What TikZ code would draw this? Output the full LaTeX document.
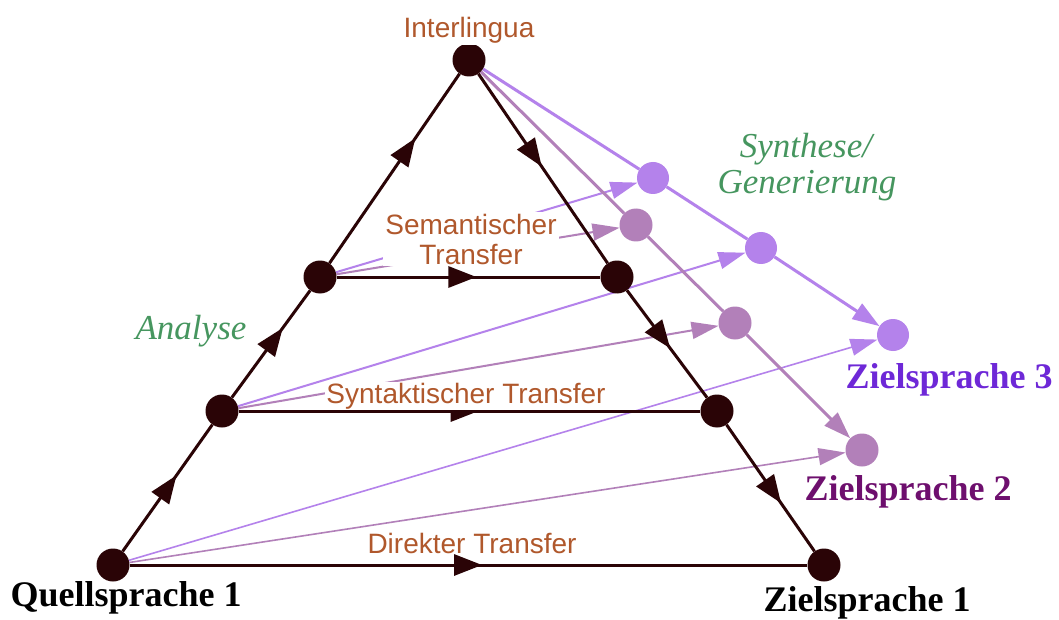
\documentclass[tikz,border=0pt]{standalone}
\usepackage{fontspec}
\setmainfont{Liberation Serif}
\setsansfont{Liberation Sans}
\usetikzlibrary{arrows.meta,decorations.markings}
\pgfdeclarelayer{paper}
\pgfdeclarelayer{background}
\pgfsetlayers{paper,background,main}
\definecolor{dotblack}{RGB}{42,4,6}
\definecolor{brownlbl}{RGB}{176,88,44}
\definecolor{greenlbl}{RGB}{70,150,95}
\definecolor{lilac}{RGB}{180,130,235}
\definecolor{mauve}{RGB}{178,128,185}
\definecolor{zthree}{RGB}{110,40,215}
\definecolor{ztwo}{RGB}{110,15,110}
\begin{document}
\begin{tikzpicture}[x=1pt,y=-1pt,
  dot/.style={circle,fill=dotblack,minimum size=33pt,inner sep=0pt},
  lil/.style={circle,fill=lilac,minimum size=32pt,inner sep=0pt},
  mau/.style={circle,fill=mauve,minimum size=33pt,inner sep=0pt},
  blackedge/.style={line width=3pt,draw=dotblack,color=dotblack,postaction={decorate},
    decoration={markings,mark=at position #1 with {\arrow{Triangle[length=28pt,width=21pt]}}}},
  blackedge/.default=0.52,
  chainlil/.style={line width=3pt,draw=lilac,color=lilac},
  chainmau/.style={line width=3pt,draw=mauve,color=mauve},
  fanlil/.style={line width=2pt,draw=lilac,color=lilac,-{Triangle[length=27pt,width=17pt]}},
  fanmau/.style={line width=2pt,draw=mauve,color=mauve,-{Triangle[length=27pt,width=17pt]}},
  tip/.style={-{Triangle[length=27pt,width=18pt]}},
  sanslbl/.style={anchor=base,text=brownlbl,font=\sffamily\fontsize{28}{30}\selectfont,fill=white,inner sep=1pt},
  itlbl/.style={anchor=base,text=greenlbl,font=\itshape\fontsize{35}{38}\selectfont,inner sep=0pt},
  boldlbl/.style={anchor=base,font=\bfseries\fontsize{36}{40}\selectfont,inner sep=0pt}
]
\useasboundingbox (0,0) rectangle (1059,620);
\begin{pgfonlayer}{paper}
\fill[white] (0,0) rectangle (1059,620);
\end{pgfonlayer}

% black nodes
\node[dot] (I) at (469,60) {};
\node[dot] (SL) at (320,277) {};
\node[dot] (SR) at (617,277) {};
\node[dot] (YL) at (222,411) {};
\node[dot] (YR) at (717,411) {};
\node[dot] (Q) at (113,565) {};
\node[dot] (Z1) at (824,565) {};
% purple nodes
\node[lil] (P3a) at (653,178) {};
\node[lil] (P3b) at (761,248) {};
\node[lil] (Z3) at (893,335) {};
\node[mau] (P2a) at (636,225) {};
\node[mau] (P2b) at (735,323) {};
\node[mau] (Z2) at (862,450) {};

% labels
\node[sanslbl] (lInter) at (469,38) {Interlingua};
\node[sanslbl,anchor=center,align=center,inner sep=2pt] (lSem) at (471,239) {Semantischer\\Transfer};
\node[sanslbl] (lSyn) at (466,403) {Syntaktischer Transfer};
\node[sanslbl] (lDir) at (472,553) {Direkter Transfer};
\node[itlbl] (lAna) at (191,339) {Analyse};
\node[itlbl] (lSynth) at (806,158) {Synthese/};
\node[itlbl] (lGen) at (807,194) {Generierung};
\node[boldlbl,text=black] (lQ) at (126,606) {Quellsprache 1};
\node[boldlbl,text=black] (lZ1) at (867,611) {Zielsprache 1};
\node[boldlbl,text=zthree] (lZ3) at (949,388) {Zielsprache 3};
\node[boldlbl,text=ztwo] (lZ2) at (908,500) {Zielsprache 2};

\begin{pgfonlayer}{background}
% fan lines
\draw[fanlil] (SL) -- (P3a);
\draw[fanmau] (SL) -- (P2a);
\draw[fanlil] (YL) -- (P3b);
\draw[fanmau] (YL) -- (P2b);
\draw[fanlil,line width=1.6pt] (Q) -- (Z3);
\draw[fanmau,line width=1.6pt] (Q) -- (Z2);
% chains
\draw[chainlil] (I) -- (P3a);
\draw[chainlil] (P3a) -- (P3b);
\draw[chainlil,tip] (P3b) -- (Z3);
\draw[chainmau] (I) -- (P2a);
\draw[chainmau] (P2a) -- (P2b);
\draw[chainmau,tip] (P2b) -- (Z2);
% black edges
\draw[blackedge=0.60] (Q) -- (YL);
\draw[blackedge=0.65] (YL) -- (SL);
\draw[blackedge=0.66] (SL) -- (I);
\draw[blackedge=0.49] (I) -- (SR);
\draw[blackedge=0.54] (SR) -- (YR);
\draw[blackedge=0.62] (YR) -- (Z1);
\draw[blackedge=0.53] (SL) -- (SR);
\draw[blackedge=0.52] (YL) -- (YR);
\draw[blackedge=0.52] (Q) -- (Z1);
\end{pgfonlayer}
\end{tikzpicture}
\end{document}
